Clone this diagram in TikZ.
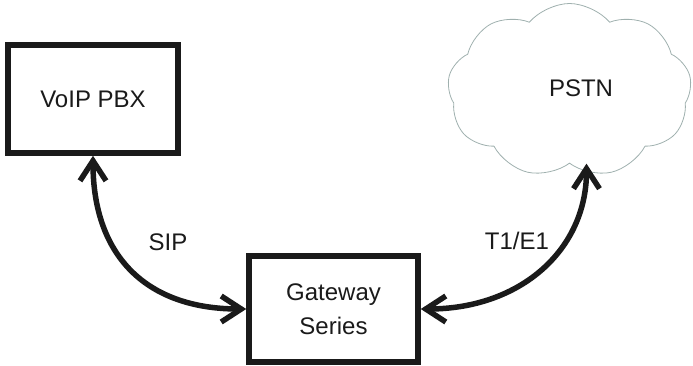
\documentclass[tikz,border=0pt]{standalone}
\usepackage{fontspec}
\setmainfont{Liberation Sans}
\usetikzlibrary{shapes.symbols,arrows.meta}
\definecolor{ink}{HTML}{1A1A1A}
\definecolor{cloudline}{HTML}{9FB0AE}
\begin{document}
\begin{tikzpicture}[x=1pt,y=-1pt,
  box/.style={draw=ink, line width=5.5pt, rectangle, inner sep=0pt, text=ink,
    font=\fontsize{24}{34}\selectfont, align=center},
  lbl/.style={text=ink, font=\fontsize{24}{30}\selectfont, inner sep=0pt},
  link/.style={draw=ink, line width=5.5pt,
    {Straight Barb[length=20pt,width=26pt]}-{Straight Barb[length=20pt,width=26pt]}},
  cloudbox/.style={cloud, draw=cloudline, line width=0.8pt, cloud puffs=9,
    cloud puff arc=100, cloud ignores aspect, inner sep=0pt},
]
\useasboundingbox (0,0) rectangle (693,365);
\node[box, minimum width=170pt, minimum height=108pt] (voip) at (93,99) {VoIP PBX};
\node[box, minimum width=169pt, minimum height=106pt] (gw) at (333.5,309) {Gateway\\Series};
\node[cloudbox, minimum width=244pt, minimum height=174pt] (pstn) at (569.5,90.5) {};
\node[lbl] (pstnlbl) at (581,88) {PSTN};
\draw[link] (voip.south) .. controls +(0,100) and +(-100,0) .. (gw.west);
\draw[link] (gw.east) .. controls +(100,0) and +(0,86) .. ([xshift=17pt]pstn.south);
\node[lbl] (sip) at (168,242) {SIP};
\node[lbl] (t1e1) at (517,241) {T1/E1};
\end{tikzpicture}
\end{document}
